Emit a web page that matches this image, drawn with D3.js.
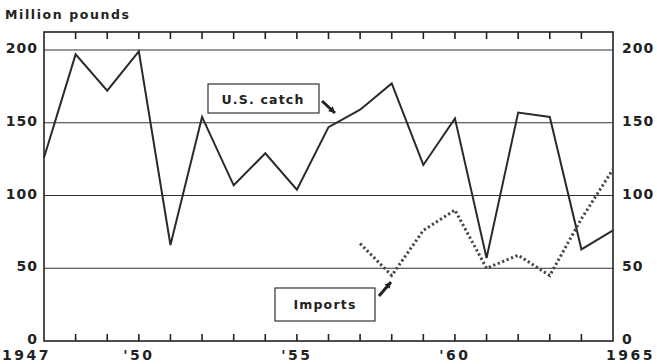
<!DOCTYPE html>
<html>
<head>
<script src="https://d3js.org/d3.v7.min.js"></script>
<style>
body { margin: 0; background: #fff; }
text { font-family: "DejaVu Sans", sans-serif; font-weight: bold; fill: #222; }
.grid { stroke: #333; stroke-width: 1.1; }
.frame { fill: none; stroke: #222; stroke-width: 1.6; }
.catch { fill: none; stroke: #2a2a2a; stroke-width: 2; stroke-linejoin: miter; }
.imports { fill: none; stroke: #444; stroke-width: 3; stroke-dasharray: 2.2,2.6; }
.box { fill: #fff; stroke: #333; stroke-width: 1.2; }
</style>
</head>
<body>
<div id="chart"></div>
<script>
// data
var years = [1947,1948,1949,1950,1951,1952,1953,1954,1955,1956,1957,1958,1959,1960,1961,1962,1963,1964,1965];
var usCatch = [126,197,172,199,66,154,107,129,104,147,159,177,121,153,57,157,154,63,76];
var importYears = [1957,1958,1959,1960,1961,1962,1963,1964,1965];
var imports = [67,45,76,90,50,59,45,84,118];
var yTicks = [0,50,100,150,200];
var xLabels = [{year:1947, label:"1947"}, {year:1950, label:"'50"}, {year:1955, label:"'55"}, {year:1960, label:"'60"}, {year:1965, label:"1965"}];

var W = 657, H = 364;
var m = {left: 44, right: 613, top: 32, bottom: 341};

var svg = d3.select("#chart").append("svg")
  .attr("width", W).attr("height", H);

var x = d3.scaleLinear().domain([1947, 1965]).range([m.left, m.right]);
var y = d3.scaleLinear().domain([0, 200]).range([m.bottom, 50]);

// gridlines
svg.selectAll(".grid")
  .data(yTicks.filter(function(d) { return d > 0; }))
  .enter().append("line")
    .attr("class", "grid")
    .attr("x1", m.left).attr("x2", m.right)
    .attr("y1", function(d) { return y(d); })
    .attr("y2", function(d) { return y(d); });

// frame
svg.append("rect").attr("class", "frame")
  .attr("x", m.left).attr("y", m.top)
  .attr("width", m.right - m.left).attr("height", m.bottom - m.top);

// year ticks, top and bottom, pointing inward
var inner = years.slice(1, -1);
svg.selectAll(".tb").data(inner).enter().append("line")
  .attr("class", "frame")
  .attr("x1", function(d) { return x(d); }).attr("x2", function(d) { return x(d); })
  .attr("y1", m.bottom).attr("y2", m.bottom - 7);
svg.selectAll(".tt").data(inner).enter().append("line")
  .attr("class", "frame")
  .attr("x1", function(d) { return x(d); }).attr("x2", function(d) { return x(d); })
  .attr("y1", m.top).attr("y2", m.top + 7);

// y labels on both sides
svg.selectAll(".yl").data(yTicks).enter().append("text")
  .attr("x", 38).attr("y", function(d) { return y(d) + 3; })
  .attr("text-anchor", "end")
  .style("font-size", "14px").style("letter-spacing", "1px")
  .text(function(d) { return d; });
svg.selectAll(".yr").data(yTicks).enter().append("text")
  .attr("x", 622).attr("y", function(d) { return y(d) + 3; })
  .style("font-size", "14px").style("letter-spacing", "1px")
  .text(function(d) { return d; });

// x labels (end years pushed outward like the original)
svg.selectAll(".xl").data(xLabels).enter().append("text")
  .attr("x", function(d, i) {
    if (i === 0) return 2;
    if (i === xLabels.length - 1) return 655;
    return x(d.year);
  })
  .attr("y", 360)
  .attr("text-anchor", function(d, i) {
    if (i === 0) return "start";
    if (i === xLabels.length - 1) return "end";
    return "middle";
  })
  .style("font-size", "14px").style("letter-spacing", "2.5px")
  .text(function(d) { return d.label; });

svg.append("text")
  .attr("x", 5).attr("y", 19)
  .style("font-size", "12.5px").style("letter-spacing", "1.6px")
  .text("Million pounds");

// lines
var line = d3.line()
  .x(function(d) { return x(d[0]); })
  .y(function(d) { return y(d[1]); });

svg.append("path").attr("class", "catch")
  .attr("d", line(d3.zip(years, usCatch)));
svg.append("path").attr("class", "imports")
  .attr("d", line(d3.zip(importYears, imports)));

// label boxes
svg.append("rect").attr("class", "box")
  .attr("x", 208).attr("y", 84).attr("width", 111).attr("height", 29);
svg.append("text").attr("x", 263).attr("y", 104)
  .attr("text-anchor", "middle")
  .style("font-size", "12.5px").style("letter-spacing", "1.2px")
  .text("U.S. catch");

svg.append("rect").attr("class", "box")
  .attr("x", 275).attr("y", 288).attr("width", 100).attr("height", 33);
svg.append("text").attr("x", 325).attr("y", 309)
  .attr("text-anchor", "middle")
  .style("font-size", "12.5px").style("letter-spacing", "1.2px")
  .text("Imports");

// little arrows
function arrow(x0, y0, x1, y1) {
  var a = Math.atan2(y1 - y0, x1 - x0), s = 7;
  svg.append("line")
    .attr("x1", x0).attr("y1", y0).attr("x2", x1).attr("y2", y1)
    .attr("stroke", "#222").attr("stroke-width", 3);
  var p1 = [x1 - s * Math.cos(a - 0.5), y1 - s * Math.sin(a - 0.5)];
  var p2 = [x1 - s * Math.cos(a + 0.5), y1 - s * Math.sin(a + 0.5)];
  svg.append("path")
    .attr("d", "M" + x1 + "," + y1 + "L" + p1 + "L" + p2 + "Z")
    .attr("fill", "#222");
}
arrow(322, 101, 335, 113);
arrow(379, 296, 391, 282);
</script>
</body>
</html>
